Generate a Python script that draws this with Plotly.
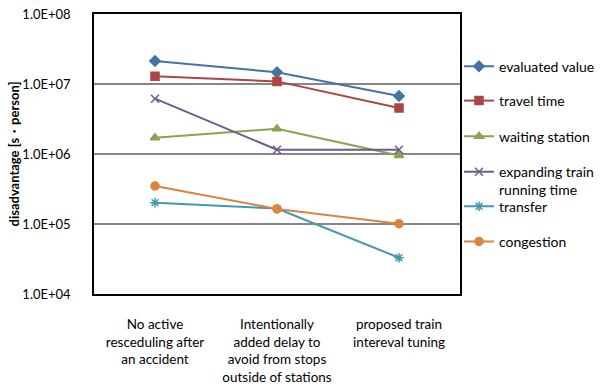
import plotly.graph_objects as go

categories = [
    "No active<br>resceduling after<br>an accident",
    "Intentionally<br>added delay to<br>avoid from stops<br>outside of stations",
    "proposed train<br>intereval tuning",
]

evaluated_value = [2.13e7, 1.47e7, 6.74e6]
travel_time = [1.29e7, 1.09e7, 4.54e6]
waiting_station = [1.71e6, 2.30e6, 9.5e5]
expanding_running = [6.17e6, 1.15e6, 1.15e6]
transfer = [2.02e5, 1.66e5, 3.3e4]
congestion = [3.49e5, 1.64e5, 1.01e5]

y_tickvals = [1e4, 1e5, 1e6, 1e7, 1e8]
y_ticktext = ["1.0E+04", "1.0E+05", "1.0E+06", "1.0E+07", "1.0E+08"]

# name, values, colour, marker symbol, legend anchor (container y)
series = [
    ("evaluated value", evaluated_value, "#4572A7", "diamond", 0.828),
    ("travel time", travel_time, "#AA4643", "square", 0.739),
    ("waiting station", waiting_station, "#89A54E", "triangle-up", 0.647),
    ("expanding train<br>running time", expanding_running, "#71588F", "x-thin-open", 0.532),
    ("transfer", transfer, "#4198AF", "asterisk-open", 0.466),
    ("congestion", congestion, "#DB843D", "circle", 0.375),
]

FONT = "Lato"
FS = 14

fig = go.Figure()
xs = list(range(len(categories)))
layout_legends = {}
for i, (name, vals, color, symbol, ly) in enumerate(series):
    lname = "legend" if i == 0 else f"legend{i + 1}"
    fig.add_trace(go.Scatter(
        x=xs, y=vals, name=name, mode="lines+markers",
        legend=lname,
        line=dict(color=color, width=2),
        marker=dict(symbol=symbol, size=8, color=color,
                    line=dict(color=color, width=1.5)),
    ))
    layout_legends[lname] = dict(
        xref="container", yref="container",
        x=0.765, xanchor="left", y=ly, yanchor="middle",
        font=dict(family=FONT, size=FS, color="black"),
        itemwidth=30, valign="top",
        bgcolor="rgba(0,0,0,0)",
    )

fig.update_layout(
    width=600, height=387,
    margin=dict(l=94, r=140, t=14, b=93, autoexpand=False),
    paper_bgcolor="white", plot_bgcolor="white",
    font=dict(family=FONT, size=FS, color="black"),
    showlegend=True,
    **layout_legends,
)

fig.update_xaxes(
    range=[-0.5, 2.5], automargin=False,
    tickmode="array", tickvals=xs, ticktext=categories,
    tickangle=0,
    showgrid=False, zeroline=False,
    showline=True, linecolor="black", linewidth=1.5, mirror=True,
    ticks="", ticklabelstandoff=17,
    tickfont=dict(family=FONT, size=13.5),
)

fig.update_yaxes(
    type="log", range=[4, 8], automargin=False,
    tickmode="array", tickvals=y_tickvals, ticktext=y_ticktext,
    showgrid=True, gridcolor="#868686", gridwidth=1.5,
    zeroline=False,
    showline=True, linecolor="black", linewidth=1.5, mirror=True,
    ticks="", ticklabelstandoff=19,
    tickfont=dict(family=FONT, size=13),
    title=dict(text="<b>disadvantage [s・person]</b>",
               font=dict(family=FONT, size=13), standoff=0),
)

fig.write_html("out.html")
